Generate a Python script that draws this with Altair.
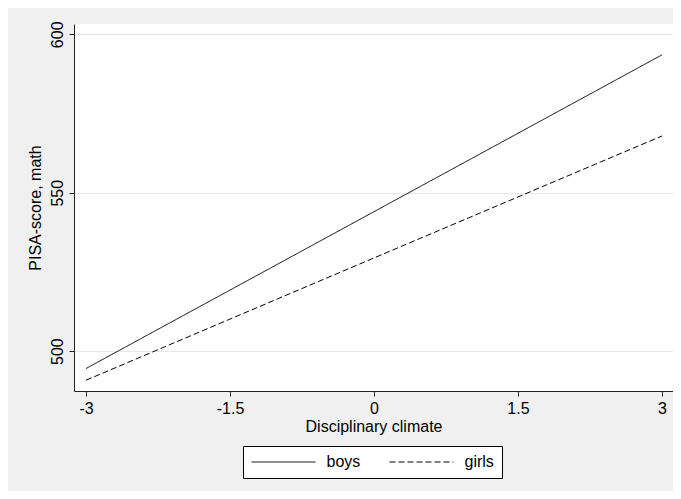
import altair as alt
import pandas as pd

# data
x_vals = [-3, 0, 3]
boys = [494.5, 544.0, 593.5]
girls = [490.8, 529.4, 567.9]
groups = ["boys", "girls"]
x_ticks = [-3, -1.5, 0, 1.5, 3]
y_ticks = [500, 550, 600]

rows = []
for g, ys in zip(groups, [boys, girls]):
    for xv, yv in zip(x_vals, ys):
        rows.append({"x": xv, "y": yv, "group": g})
df = pd.DataFrame(rows)

FONT = "Liberation Sans"

chart = alt.Chart(df).mark_line(color="black", strokeWidth=1).encode(
    x=alt.X(
        "x:Q",
        scale=alt.Scale(domain=[-3.125, 3.115], nice=False, zero=False),
        axis=alt.Axis(
            values=x_ticks,
            labelExpr="toString(datum.value)",
            grid=False,
            title="Disciplinary climate",
            tickSize=5,
            labelPadding=17,
            labelBaseline="alphabetic",
            labelFlush=False,
            labelOverlap=False,
            titleY=40,
            titleBaseline="alphabetic",
        ),
    ),
    y=alt.Y(
        "y:Q",
        scale=alt.Scale(domain=[487.4, 603.25], nice=False, zero=False),
        axis=alt.Axis(
            values=y_ticks,
            grid=True,
            gridColor="#e8e8e8",
            gridWidth=1,
            title="PISA-score, math",
            tickSize=5,
            labelAngle=270,
            labelAlign="center",
            labelBaseline="alphabetic",
            labelPadding=7,
            labelOverlap=False,
            titleAngle=270,
            titleAlign="center",
            titleBaseline="alphabetic",
            titleX=-34,
            titleY=183.5,
        ),
    ),
    strokeDash=alt.StrokeDash(
        "group:N",
        scale=alt.Scale(domain=groups, range=[[1, 0], [6, 3]]),
        legend=alt.Legend(
            title=None,
            orient="none",
            legendX=169,
            legendY=422,
            direction="horizontal",
            symbolType="M-8,0H8",
            symbolSize=64,
            symbolStrokeWidth=1,
            symbolStrokeColor="black",
            symbolOffset=24.5,
            labelOffset=35,
            columnPadding=26,
            padding=8,
            strokeColor="black",
            fillColor="white",
            labelFont=FONT,
            labelFontSize=16,
            labelColor="black",
        ),
    ),
).properties(
    width=599,
    height=367,
    autosize=alt.AutoSizeParams(type="none"),
    padding={"left": 66, "top": 16, "right": 0, "bottom": 100},
    background="#f0f0f0",
).configure_view(
    stroke=None, fill="white"
).configure_axis(
    labelFont=FONT,
    labelFontSize=16,
    labelColor="black",
    titleFont=FONT,
    titleFontSize=16,
    titleFontWeight="normal",
    titleColor="black",
    domainColor="#222222",
    tickColor="#222222",
    domainWidth=1,
    tickWidth=1,
)

chart.save("out.html", embed_options={"renderer": "svg", "actions": False})
